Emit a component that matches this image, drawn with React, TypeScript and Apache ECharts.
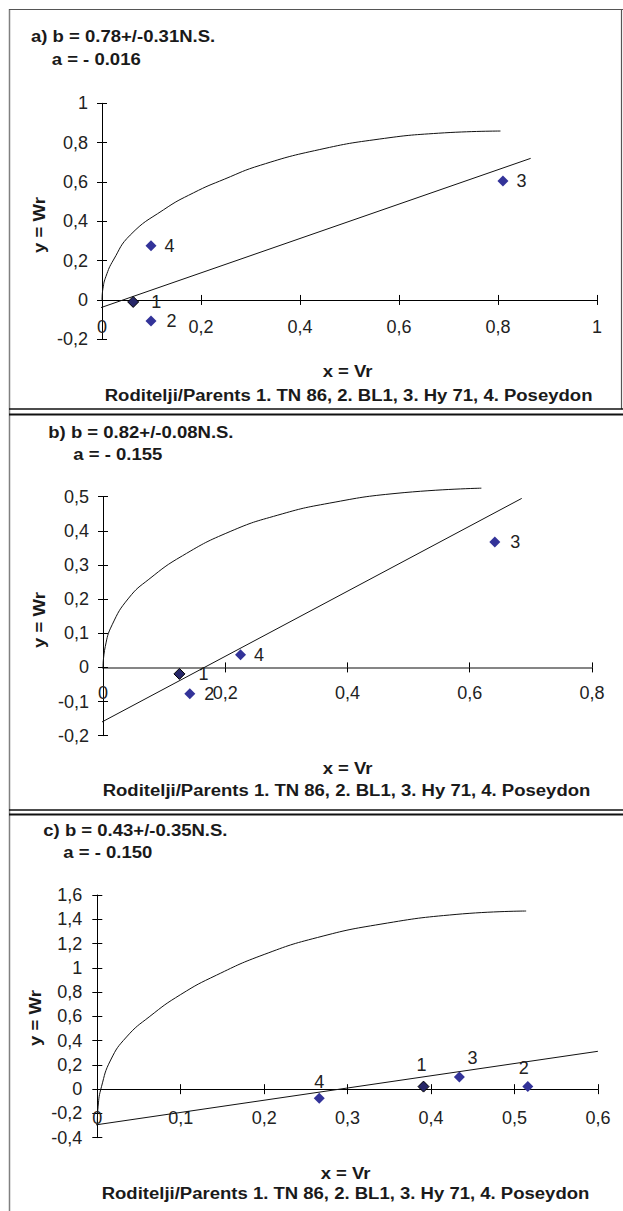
import React, { useEffect, useRef } from 'react';
import * as echarts from 'echarts';

const FONT = '"Liberation Sans", Arial, Helvetica, sans-serif';

// parent ids (1. TN 86, 2. BL1, 3. Hy 71, 4. Poseydon)
const parentIds = ['1', '2', '3', '4'];

// panel a
const aVr = [0.063, 0.099, 0.81, 0.099];
const aWr = [-0.01, -0.107, 0.605, 0.276];
const aRegX = [-0.024, 0.866];
const aRegY = [-0.058, 0.72];
const aCurveX = [0, 0.002, 0.008, 0.023, 0.057, 0.124, 0.185, 0.248, 0.32, 0.44, 0.56, 0.68, 0.805];
const aCurveY = [0, 0.06, 0.12, 0.203, 0.33, 0.458, 0.545, 0.615, 0.685, 0.765, 0.818, 0.848, 0.859];

// panel b
const bVr = [0.125, 0.142, 0.641, 0.225];
const bWr = [-0.019, -0.077, 0.367, 0.037];
const bRegX = [-0.026, 0.685];
const bRegY = [-0.183, 0.495];
const bCurveX = [0, 0.0037, 0.015, 0.042, 0.075, 0.13, 0.208, 0.286, 0.37, 0.481, 0.619];
const bCurveY = [0, 0.061, 0.125, 0.203, 0.258, 0.327, 0.398, 0.446, 0.481, 0.51, 0.525];

// panel c
const cVr = [0.391, 0.516, 0.434, 0.266];
const cWr = [0.021, 0.021, 0.1, -0.075];
const cRegX = [-0.057, 0.6];
const cRegY = [-0.35, 0.312];
const cCurveX = [0, 0.001, 0.005, 0.016, 0.035, 0.063, 0.1, 0.143, 0.2, 0.264, 0.34, 0.43, 0.514];
const cCurveY = [-0.28, -0.14, 0.02, 0.24, 0.43, 0.6, 0.78, 0.94, 1.11, 1.25, 1.36, 1.44, 1.468];

// axis ranges
const xRanges = [[0, 1, 0.2], [0, 0.8, 0.2], [0, 0.6, 0.1]];
const yRanges = [[-0.2, 1, 0.2], [-0.2, 0.5, 0.1], [-0.4, 1.6, 0.2]];

const titles1 = ['a) b = 0.78+/-0.31N.S.', 'b) b = 0.82+/-0.08N.S.', 'c) b = 0.43+/-0.35N.S.'];
const titles2 = ['a = - 0.016', 'a = - 0.155', 'a = - 0.150'];
const xTitle = 'x = Vr';
const yTitle = 'y = Wr';
const legendText = 'Roditelji/Parents 1. TN 86, 2. BL1, 3. Hy 71, 4. Poseydon';

const fmt = (v: number) => String(Math.round(v * 10) / 10).replace('.', ',');

export default function App() {
  const ref = useRef<HTMLDivElement>(null);
  useEffect(() => {
    if (!ref.current) return;
    const chart = echarts.init(ref.current, undefined, { renderer: 'svg' });

    const grids = [
      { left: 102, top: 103.3, width: 495, height: 236 },
      { left: 103, top: 496.7, width: 489, height: 239 },
      { left: 97.3, top: 895, width: 500.6, height: 242.7 },
    ];
    // auxiliary grids whose bottom edge sits on the y = 0 line (carry the x tick labels)
    const auxGrids = grids.map((g, i) => {
      const [y0, y1] = yRanges[i];
      const zeroY = g.top + (g.height * y1) / (y1 - y0);
      return { left: g.left, width: g.width, top: g.top, height: zeroY - g.top };
    });
    const xLineStyles = [
      { color: '#000', width: 1 },
      { color: '#858585', width: 2 },
      { color: '#000', width: 1 },
    ];
    const xMargins = [18, 17, 20];
    const yMargins = [14, 14, 15];

    const xAxis: any[] = [];
    const yAxis: any[] = [];
    grids.forEach((g, i) => {
      const [x0, x1, xi] = xRanges[i];
      const [y0, y1, yi] = yRanges[i];
      xAxis.push({
        type: 'value', gridIndex: i, min: x0, max: x1, interval: xi, position: 'bottom',
        axisLine: { show: true, onZero: true, onZeroAxisIndex: 2 * i, lineStyle: xLineStyles[i] },
        axisTick: { show: true, inside: false, length: 5, lineStyle: { color: '#000', width: 1 } },
        axisLabel: { show: false },
        splitLine: { show: false },
      });
      xAxis.push({
        type: 'value', gridIndex: i, min: x0, max: x1, interval: xi, position: 'bottom',
        axisLine: { show: false, onZero: true, onZeroAxisIndex: 2 * i },
        axisTick: { show: true, inside: true, length: 5, lineStyle: { color: '#000', width: 1 } },
        axisLabel: { show: false },
        splitLine: { show: false },
      });
      yAxis.push({
        type: 'value', gridIndex: i, min: y0, max: y1, interval: yi, position: 'left',
        axisLine: { show: true, onZero: false, lineStyle: { color: '#000', width: 1 } },
        axisTick: { show: true, inside: false, length: 5, lineStyle: { color: '#000', width: 1 } },
        axisLabel: { show: true, margin: yMargins[i], fontSize: 18, color: '#222', fontFamily: FONT, formatter: fmt },
        splitLine: { show: false },
      });
      yAxis.push({
        type: 'value', gridIndex: i, min: y0, max: y1, interval: yi, position: 'left',
        axisLine: { show: false, onZero: false },
        axisTick: { show: true, inside: true, length: 5, lineStyle: { color: '#000', width: 1 } },
        axisLabel: { show: false },
        splitLine: { show: false },
      });
    });
    auxGrids.forEach((g, i) => {
      const [x0, x1, xi] = xRanges[i];
      xAxis.push({
        type: 'value', gridIndex: 3 + i, min: x0, max: x1, interval: xi, position: 'bottom',
        axisLine: { show: false, onZero: false },
        axisTick: { show: false },
        axisLabel: { show: true, margin: xMargins[i], fontSize: 18, color: '#222', fontFamily: FONT, formatter: fmt },
        splitLine: { show: false },
      });
      yAxis.push({
        type: 'value', gridIndex: 3 + i, min: 0, max: 1, show: false,
        splitLine: { show: false },
      });
    });

    const zip = (xs: number[], ys: number[]) => xs.map((x, k) => [x, ys[k]]);

    const panels = [
      { vr: aVr, wr: aWr, regX: aRegX, regY: aRegY, cx: aCurveX, cy: aCurveY },
      { vr: bVr, wr: bWr, regX: bRegX, regY: bRegY, cx: bCurveX, cy: bCurveY },
      { vr: cVr, wr: cWr, regX: cRegX, regY: cRegY, cx: cCurveX, cy: cCurveY },
    ];

    const labelRight = [
      [12, 10, 8, 8],
      [13, 9, 10, 8],
    ];
    const labelTopOffsets = [[-2, -4], [-4, -1], [13, -2], [0, 1]];

    const series: any[] = [];
    panels.forEach((p, i) => {
      series.push({
        type: 'line', xAxisIndex: 2 * i, yAxisIndex: 2 * i, data: zip(p.cx, p.cy),
        showSymbol: false, smooth: 0.5, clip: false,
        lineStyle: { color: '#111', width: 1 }, z: 2, silent: true,
      });
      series.push({
        type: 'line', xAxisIndex: 2 * i, yAxisIndex: 2 * i, data: zip(p.regX, p.regY),
        showSymbol: false, clip: false,
        lineStyle: { color: '#111', width: 1 }, z: 2, silent: true,
      });
      const data = p.vr.map((x, k) => {
        const item: any = { value: [x, p.wr[k]], name: parentIds[k] };
        if (k === 0) item.itemStyle = { color: '#262668', borderColor: '#000', borderWidth: 1, opacity: 1 };
        if (i < 2) {
          item.label = { position: 'right', distance: labelRight[i][k] };
          if (i === 0 && k === 3) {
            item.label.textShadowColor = '#777';
            item.label.textShadowOffsetX = 1;
            item.label.textShadowOffsetY = 1;
            item.label.textShadowBlur = 0;
          }
        } else {
          item.label = { position: 'top', distance: 3, offset: labelTopOffsets[k] };
        }
        return item;
      });
      series.push({
        type: 'scatter', xAxisIndex: 2 * i, yAxisIndex: 2 * i, data,
        symbol: 'diamond', symbolSize: 11, clip: false,
        itemStyle: { color: '#333399', opacity: 1 },
        label: { show: true, formatter: (d: any) => d.name, fontSize: 18, color: '#222', fontFamily: FONT },
        z: 3,
      });
    });

    const boldText = (x: number, y: number, text: string, align: string, rotation = 0) => ({
      type: 'text', x, y, rotation, scaleX: 1.09, scaleY: 1,
      style: {
        text, fontFamily: FONT, fontSize: 17, fontWeight: 'bold', fill: '#1a1a1a',
        align, verticalAlign: 'middle',
      },
    });

    const t1Pos = [[31, 36.5], [48.3, 432.7], [43.3, 830.7]];
    const t2Pos = [[51.7, 59], [73.3, 454], [63.3, 852.7]];
    const yTitlePos = [[39.7, 225], [39.7, 620], [35, 1018]];
    const xTitlePos = [[347.6, 371.7], [347.6, 768.3], [345.6, 1173.3]];
    const legPos = [[348.6, 395], [346.5, 790.7], [345.5, 1193.3]];

    const graphic: any[] = [
      { type: 'line', shape: { x1: 9.5, y1: 9, x2: 9.5, y2: 1211 }, style: { stroke: '#808080', lineWidth: 1.5 } },
      { type: 'line', shape: { x1: 9, y1: 9.5, x2: 623, y2: 9.5 }, style: { stroke: '#555', lineWidth: 1.2 } },
      { type: 'line', shape: { x1: 621.5, y1: 9, x2: 621.5, y2: 409 }, style: { stroke: '#555', lineWidth: 1.2 } },
      { type: 'line', shape: { x1: 9, y1: 409, x2: 623, y2: 409 }, style: { stroke: '#111', lineWidth: 1.3 } },
      { type: 'line', shape: { x1: 9, y1: 414.5, x2: 623, y2: 414.5 }, style: { stroke: '#111', lineWidth: 2 } },
      { type: 'line', shape: { x1: 9, y1: 810, x2: 623, y2: 810 }, style: { stroke: '#111', lineWidth: 1.3 } },
      { type: 'line', shape: { x1: 9, y1: 814.5, x2: 623, y2: 814.5 }, style: { stroke: '#111', lineWidth: 2 } },
    ];
    for (let i = 0; i < 3; i++) {
      graphic.push(boldText(t1Pos[i][0], t1Pos[i][1], titles1[i], 'left'));
      graphic.push(boldText(t2Pos[i][0], t2Pos[i][1], titles2[i], 'left'));
      graphic.push(boldText(xTitlePos[i][0], xTitlePos[i][1], xTitle, 'center'));
      graphic.push(boldText(legPos[i][0], legPos[i][1], legendText, 'center'));
      graphic.push(boldText(yTitlePos[i][0], yTitlePos[i][1], yTitle, 'center', Math.PI / 2));
    }

    chart.setOption({
      animation: false,
      backgroundColor: '#fff',
      grid: [...grids, ...auxGrids].map((g) => ({ ...g, containLabel: false })),
      xAxis,
      yAxis,
      series,
      graphic,
    });
    return () => chart.dispose();
  }, []);

  return (
    <div
      ref={ref}
      style={{ position: 'absolute', left: 0, top: 0, width: 623, height: 1211, background: '#fff' }}
    />
  );
}
